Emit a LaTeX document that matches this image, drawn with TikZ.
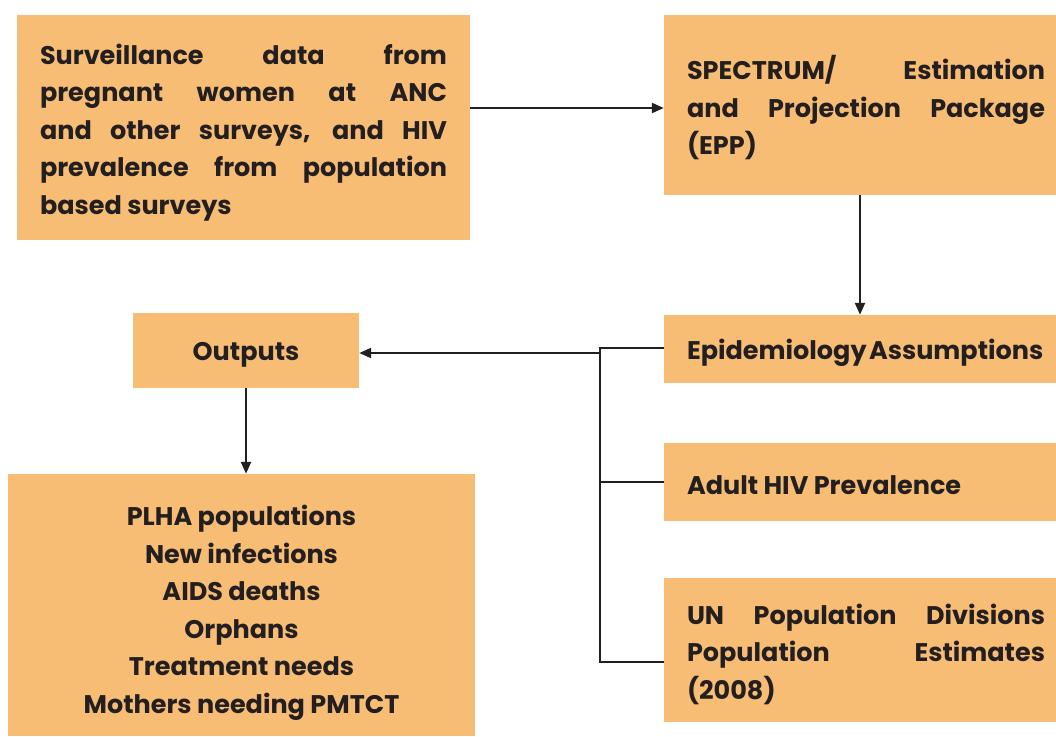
\documentclass[tikz,border=0pt]{standalone}
\usepackage{fontspec}
\setmainfont{Poppins}
\usetikzlibrary{arrows.meta,calc}
\definecolor{boxfill}{HTML}{F8BD74}
\definecolor{ink}{HTML}{231F20}
\begin{document}
\begin{tikzpicture}[x=1pt,y=-1pt,
  box/.style={fill=boxfill, draw=none, inner sep=0pt},
  txt/.style={text=ink, font=\bfseries\fontsize{25.5}{37.5}\selectfont, inner sep=0pt},
  conn/.style={draw=ink, line width=2.2pt},
  arr/.style={conn, -{Triangle[length=12pt,width=10pt]}}]
\useasboundingbox (0,0) rectangle (1056,736);
\fill[white] (0,0) rectangle (1056,736);
% boxes
\node[box, minimum width=453pt, minimum height=225pt] (b1) at (243.5,127.5) {};
\node[box, minimum width=392pt, minimum height=180pt] (b2) at (860,105) {};
\node[box, minimum width=392pt, minimum height=68pt] (b3) at (860,349) {};
\node[box, minimum width=392pt, minimum height=78pt] (b4) at (860,482) {};
\node[box, minimum width=392pt, minimum height=144pt] (b5) at (860,650) {};
\node[box, minimum width=226pt, minimum height=75pt] (out) at (246,350.5) {};
\node[box, minimum width=467pt, minimum height=262pt] (b7) at (241.5,605) {};
% texts
\node[txt, text width=407pt, align=justify] (t1) at ([yshift=-5pt]b1.center)
 {Surveillance data from\linebreak pregnant women at ANC\linebreak and other surveys, and HIV\linebreak prevalence from population\linebreak based surveys};
\node[txt] (t2) at ([xshift=6pt,yshift=-3pt]b2.center)
 {\begin{minipage}{358pt}SPECTRUM/ Estimation\linebreak and Projection Package\linebreak (EPP)\end{minipage}};
\node[txt] (t3) at ([xshift=6pt,yshift=-4pt]b3.center)
 {\begin{minipage}{358pt}\raggedright Epidemiology\hspace{-3pt} Assumptions\end{minipage}};
\node[txt] (t4) at ([xshift=6pt,yshift=-3pt]b4.center)
 {\begin{minipage}{358pt}\raggedright Adult HIV Prevalence\end{minipage}};
\node[txt] (t5) at ([xshift=6pt,yshift=-4pt]b5.center)
 {\begin{minipage}{358pt}UN Population Divisions\linebreak Population Estimates\linebreak (2008)\end{minipage}};
\node[txt, align=center] (to) at ([yshift=-4pt]out.center) {Outputs};
\node[txt, align=center] (t7) at ([yshift=-8pt]b7.center)
 {PLHA populations\\New infections\\AIDS deaths\\Orphans\\Treatment needs\\Mothers needing PMTCT};
% connectors
\coordinate (p1) at ([yshift=19.5pt]b1.east);
\draw[arr] (p1) -- (p1 -| b2.west);
\draw[arr] (b2.south) -- (b3.north);
\coordinate (j3) at (600,348);
\coordinate (jo) at (600,353);
\coordinate (j4) at (600,482);
\coordinate (j5) at (600,662);
\draw[conn] ([yshift=1pt]b3.west) -- (j3) -- (j5) -- (j5 -| b5.west);
\draw[conn] (j4) -- (b4.west);
\draw[arr] (jo) -- (jo -| out.east);
\draw[arr] (out.south) -- (out.south |- b7.north);
\end{tikzpicture}
\end{document}
